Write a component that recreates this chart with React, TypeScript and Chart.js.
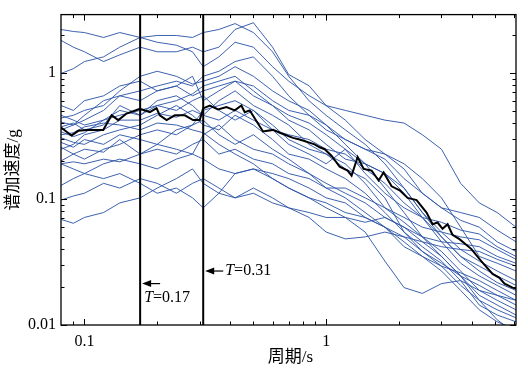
import React, { useEffect, useRef } from 'react';
import { Chart, registerables } from 'chart.js';

Chart.register(...registerables);

// Periods (s) shared by the individual record spectra
const periods = [0.08, 0.09, 0.1, 0.12, 0.14, 0.17, 0.2, 0.24, 0.28, 0.31, 0.36, 0.42, 0.5, 0.6, 0.7, 0.85, 1.0, 1.2, 1.45, 1.75, 2.1, 2.5, 3.0, 3.6, 4.3, 5.1, 6.1];

// Spectral acceleration (g) of each record
const record01 = [2.21, 2.13, 2.09, 1.91, 2.09, 1.91, 1.98, 1.98, 1.91, 2.09, 2.21, 2.46, 2.09, 1.47, 0.94, 0.6, 0.46, 0.353, 0.271, 0.19, 0.122, 0.078, 0.05, 0.035, 0.0268, 0.0217, 0.0188];
const record02 = [1.81, 1.6, 1.47, 1.23, 1.39, 1.6, 1.47, 1.47, 1.6, 1.47, 1.6, 2.21, 2.5, 1.6, 0.97, 0.79, 0.55, 0.504, 0.461, 0.422, 0.4, 0.323, 0.248, 0.133, 0.093, 0.078, 0.0597];
const record03 = [0.99, 1.08, 1.23, 1.34, 1.6, 1.91, 1.75, 1.66, 1.47, 1.12, 1.34, 1.75, 1.6, 1.12, 0.86, 0.66, 0.55, 0.422, 0.296, 0.227, 0.173, 0.111, 0.085, 0.078, 0.0713, 0.0566, 0.0457];
const record04 = [0.438, 0.461, 0.504, 0.551, 0.72, 0.94, 1.03, 0.94, 0.815, 0.86, 0.94, 1.12, 0.94, 0.72, 0.6, 0.504, 0.386, 0.296, 0.248, 0.227, 0.19, 0.145, 0.102, 0.0597, 0.035, 0.0309, 0.0268];
const record05 = [0.407, 0.386, 0.422, 0.504, 0.658, 0.602, 0.72, 0.787, 0.658, 0.72, 0.787, 0.86, 0.658, 0.551, 0.422, 0.353, 0.271, 0.207, 0.19, 0.159, 0.111, 0.0713, 0.0457, 0.0309, 0.0245, 0.0206, 0.0172];
const record06 = [0.373, 0.4, 0.353, 0.386, 0.551, 0.461, 0.602, 0.658, 0.551, 0.461, 0.602, 0.72, 0.551, 0.461, 0.386, 0.271, 0.227, 0.173, 0.145, 0.102, 0.0546, 0.0383, 0.0293, 0.0206, 0.0157, 0.0132, 0.0114];
const record07 = [0.341, 0.312, 0.335, 0.422, 0.504, 0.461, 0.551, 0.504, 0.602, 0.658, 0.504, 0.422, 0.504, 0.386, 0.296, 0.248, 0.227, 0.19, 0.133, 0.085, 0.0653, 0.05, 0.0383, 0.0268, 0.0188, 0.0157, 0.0132];
const record08 = [0.306, 0.281, 0.271, 0.323, 0.353, 0.386, 0.461, 0.551, 0.461, 0.386, 0.353, 0.461, 0.386, 0.296, 0.227, 0.207, 0.173, 0.145, 0.111, 0.078, 0.0546, 0.0418, 0.0321, 0.0225, 0.0144, 0.012, 0.0106];
const record09 = [0.281, 0.257, 0.296, 0.271, 0.323, 0.296, 0.271, 0.353, 0.386, 0.422, 0.323, 0.271, 0.323, 0.248, 0.207, 0.159, 0.133, 0.111, 0.093, 0.0713, 0.0597, 0.0457, 0.035, 0.0245, 0.0157, 0.011, 0.0085];
const record10 = [0.257, 0.227, 0.248, 0.235, 0.296, 0.227, 0.248, 0.227, 0.271, 0.296, 0.227, 0.248, 0.207, 0.19, 0.159, 0.145, 0.122, 0.102, 0.078, 0.0597, 0.0418, 0.035, 0.0268, 0.0188, 0.0132, 0.0106, 0.0092];
const record11 = [0.2, 0.227, 0.207, 0.248, 0.271, 0.323, 0.353, 0.323, 0.386, 0.504, 0.551, 0.602, 0.504, 0.353, 0.323, 0.296, 0.248, 0.227, 0.173, 0.133, 0.093, 0.0713, 0.0653, 0.0566, 0.0527, 0.0418, 0.035];
const record12 = [0.19, 0.197, 0.19, 0.207, 0.197, 0.227, 0.271, 0.248, 0.227, 0.323, 0.386, 0.296, 0.248, 0.227, 0.19, 0.159, 0.122, 0.122, 0.102, 0.085, 0.0713, 0.0597, 0.0546, 0.05, 0.0474, 0.0397, 0.0332];
const record13 = [0.128, 0.145, 0.159, 0.19, 0.207, 0.19, 0.173, 0.207, 0.227, 0.207, 0.173, 0.159, 0.173, 0.159, 0.145, 0.122, 0.102, 0.093, 0.0713, 0.0597, 0.05, 0.0383, 0.0309, 0.0245, 0.0206, 0.0172, 0.0144];
const record14 = [0.098, 0.1055, 0.111, 0.133, 0.122, 0.145, 0.133, 0.111, 0.133, 0.145, 0.122, 0.102, 0.111, 0.093, 0.085, 0.078, 0.0713, 0.0713, 0.0653, 0.0713, 0.0597, 0.05, 0.0457, 0.0441, 0.0418, 0.035, 0.0309];
const record15 = [0.0688, 0.0641, 0.0713, 0.078, 0.093, 0.102, 0.122, 0.145, 0.173, 0.133, 0.111, 0.102, 0.122, 0.102, 0.085, 0.0713, 0.0546, 0.0482, 0.05, 0.0546, 0.05, 0.0457, 0.0418, 0.0397, 0.0383, 0.0332, 0.0293];
const record16 = [0.19, 0.173, 0.159, 0.145, 0.159, 0.133, 0.111, 0.122, 0.102, 0.085, 0.111, 0.159, 0.173, 0.145, 0.122, 0.102, 0.085, 0.0713, 0.0546, 0.0321, 0.0198, 0.0178, 0.0213, 0.0225, 0.0188, 0.0172, 0.0157];
const record17 = [0.353, 0.386, 0.461, 0.602, 0.658, 0.72, 0.787, 0.86, 0.787, 0.94, 1.03, 1.23, 1.34, 0.94, 0.658, 0.461, 0.353, 0.296, 0.248, 0.207, 0.145, 0.111, 0.085, 0.0677, 0.0597, 0.0457, 0.0383];
const record18 = [0.551, 0.504, 0.602, 0.658, 0.787, 0.86, 0.72, 0.787, 0.94, 0.602, 0.72, 0.86, 0.787, 0.602, 0.504, 0.461, 0.386, 0.271, 0.19, 0.122, 0.078, 0.05, 0.035, 0.0245, 0.0172, 0.0144, 0.012];
const record19 = [0.248, 0.271, 0.323, 0.353, 0.422, 0.422, 0.478, 0.445, 0.504, 0.461, 0.422, 0.504, 0.422, 0.353, 0.271, 0.227, 0.19, 0.248, 0.19, 0.159, 0.122, 0.078, 0.0546, 0.0397, 0.0321, 0.0268, 0.0225];
const record20 = [0.323, 0.335, 0.373, 0.4, 0.386, 0.353, 0.4, 0.386, 0.353, 0.335, 0.271, 0.227, 0.19, 0.145, 0.122, 0.102, 0.093, 0.078, 0.0713, 0.0597, 0.0457, 0.035, 0.0293, 0.0259, 0.0225, 0.0188, 0.0157];
const record21 = [0.461, 0.422, 0.386, 0.422, 0.461, 0.504, 0.551, 0.602, 0.682, 0.787, 0.86, 0.94, 0.72, 0.551, 0.461, 0.4, 0.323, 0.248, 0.159, 0.111, 0.085, 0.0713, 0.05, 0.035, 0.0293, 0.0245, 0.0206];

const records = [record01, record02, record03, record04, record05, record06, record07, record08, record09, record10, record11, record12, record13, record14, record15, record16, record17, record18, record19, record20, record21];

// Mean spectrum
const meanPeriods = [0.08, 0.0885, 0.0943, 0.102, 0.1196, 0.1296, 0.138, 0.1494, 0.1695, 0.1865, 0.1987, 0.205, 0.2187, 0.2366, 0.2602, 0.2815, 0.3, 0.3097, 0.33, 0.357, 0.387, 0.4187, 0.446, 0.4605, 0.483, 0.548, 0.603, 0.643, 0.729, 0.777, 0.896, 0.94, 0.986, 1.054, 1.137, 1.227, 1.274, 1.349, 1.429, 1.542, 1.648, 1.729, 1.865, 2.014, 2.173, 2.366, 2.602, 2.755, 2.89, 3.03, 3.18, 3.33, 3.56, 3.99, 4.39, 4.88, 5.21, 5.47, 5.9, 6.1];
const meanValues = [0.368, 0.319, 0.347, 0.353, 0.353, 0.461, 0.422, 0.476, 0.52, 0.489, 0.525, 0.461, 0.422, 0.461, 0.461, 0.422, 0.422, 0.523, 0.551, 0.513, 0.535, 0.504, 0.551, 0.487, 0.504, 0.343, 0.353, 0.335, 0.305, 0.296, 0.271, 0.257, 0.248, 0.219, 0.18, 0.168, 0.153, 0.215, 0.173, 0.168, 0.14, 0.162, 0.126, 0.117, 0.102, 0.098, 0.078, 0.063, 0.065, 0.058, 0.063, 0.052, 0.048, 0.04, 0.032, 0.0254, 0.0237, 0.0213, 0.0198, 0.0195];

// Marked periods
const markerPeriods = [0.17, 0.31];
const markerLabels = ['=0.17', '=0.31'];
const markerArrowValues = [0.0213, 0.0268];

// Axes
const xMin = 0.08;
const xMax = 6.1;
const yMin = 0.01;
const yMax = 2.9;
const xTickLabels = [0.1, 1];
const yTickLabels = [0.01, 0.1, 1];
const xMinorTicks = [0.09, 0.2, 0.3, 0.4, 0.5, 0.6, 0.7, 0.8, 0.9, 2, 3, 4, 5, 6];
const yMinorTicks = [0.02, 0.03, 0.04, 0.05, 0.06, 0.07, 0.08, 0.09, 0.2, 0.3, 0.4, 0.5, 0.6, 0.7, 0.8, 0.9, 2];
const xTitle = '周期/s';
const yTitle = '谱加速度/g';

const SERIF = '"Liberation Serif", "Times New Roman", "Noto Sans CJK SC", serif';

const decorPlugin = {
  id: 'decor',
  afterDatasetsDraw(chart: any) {
    const { ctx, chartArea, scales } = chart;
    const xs = scales.x;
    const ys = scales.y;
    const { left, right, top, bottom } = chartArea;
    ctx.save();
    // frame
    ctx.strokeStyle = '#000';
    ctx.lineWidth = 1.3;
    ctx.strokeRect(left, top, right - left, bottom - top);
    // inward ticks
    ctx.lineWidth = 1;
    const tickX = (v: number, len: number) => {
      const px = Math.round(xs.getPixelForValue(v)) + 0.5;
      ctx.beginPath();
      ctx.moveTo(px, bottom);
      ctx.lineTo(px, bottom - len);
      ctx.moveTo(px, top);
      ctx.lineTo(px, top + len);
      ctx.stroke();
    };
    const tickY = (v: number, len: number) => {
      const py = Math.round(ys.getPixelForValue(v)) + 0.5;
      ctx.beginPath();
      ctx.moveTo(left, py);
      ctx.lineTo(left + len, py);
      ctx.moveTo(right, py);
      ctx.lineTo(right - len, py);
      ctx.stroke();
    };
    xTickLabels.forEach((v) => tickX(v, 6));
    xMinorTicks.forEach((v) => tickX(v, 3.5));
    yTickLabels.forEach((v) => tickY(v, 6));
    yMinorTicks.forEach((v) => tickY(v, 3.5));

    // marker annotations
    markerPeriods.forEach((p, i) => {
      const lx = xs.getPixelForValue(p);
      const ay = ys.getPixelForValue(markerArrowValues[i]);
      const tip = lx + 2;
      const tail = tip + 18;
      ctx.strokeStyle = '#000';
      ctx.fillStyle = '#000';
      ctx.lineWidth = 1.2;
      ctx.beginPath();
      ctx.moveTo(tip + 6, ay);
      ctx.lineTo(tail, ay);
      ctx.stroke();
      ctx.beginPath();
      ctx.moveTo(tip, ay);
      ctx.lineTo(tip + 9, ay - 3.5);
      ctx.lineTo(tip + 9, ay + 3.5);
      ctx.closePath();
      ctx.fill();
      let tx: number;
      let ty: number;
      if (i === 0) {
        tx = lx + 4;
        ty = ay + 14;
      } else {
        tx = tail + 2;
        ty = ay;
      }
      ctx.textBaseline = 'middle';
      ctx.textAlign = 'left';
      ctx.font = 'italic 16px ' + SERIF;
      ctx.fillText('T', tx, ty);
      const tw = ctx.measureText('T').width;
      ctx.font = '16px ' + SERIF;
      ctx.fillText(markerLabels[i], tx + tw, ty);
    });

    // axis titles
    ctx.fillStyle = '#000';
    ctx.font = '17px ' + SERIF;
    ctx.textAlign = 'center';
    ctx.textBaseline = 'middle';
    ctx.fillText(xTitle, (left + right) / 2 + 2, 358);
    ctx.save();
    ctx.translate(14, (top + bottom) / 2);
    ctx.rotate(-Math.PI / 2);
    ctx.fillText(yTitle, 0, 0);
    ctx.restore();
    ctx.restore();
  },
};

export default function App() {
  const canvasRef = useRef<HTMLCanvasElement | null>(null);

  useEffect(() => {
    const canvas = canvasRef.current;
    if (!canvas) return;

    const recordSets = records.map((vals, idx) => ({
      label: 'record ' + (idx + 1),
      data: periods.map((p, i) => ({ x: p, y: vals[i] })),
      borderColor: 'rgba(45, 85, 168, 0.92)',
      borderWidth: 1,
      pointRadius: 0,
      tension: 0,
      fill: false,
      order: 3,
    }));

    const markerSets = markerPeriods.map((p) => ({
      label: 'T=' + p,
      data: [
        { x: p, y: yMin },
        { x: p, y: yMax },
      ],
      borderColor: '#000',
      borderWidth: 2,
      pointRadius: 0,
      fill: false,
      order: 1,
    }));

    const meanSet = {
      label: 'mean',
      data: meanPeriods.map((p, i) => ({ x: p, y: meanValues[i] })),
      borderColor: '#000',
      borderWidth: 2,
      pointRadius: 0,
      tension: 0,
      fill: false,
      order: 0,
    };

    const chart = new Chart(canvas, {
      type: 'line',
      data: { datasets: [meanSet, ...markerSets, ...recordSets] as any },
      options: {
        responsive: false,
        animation: false,
        devicePixelRatio: 1,
        layout: { padding: { left: 0, right: 12, top: 6, bottom: 0 } },
        plugins: {
          legend: { display: false },
          tooltip: { enabled: false },
        },
        scales: {
          x: {
            type: 'logarithmic',
            min: xMin,
            max: xMax,
            grid: { display: false, drawTicks: false },
            border: { display: false },
            afterBuildTicks: (scale: any) => {
              scale.ticks = xTickLabels.map((v) => ({ value: v }));
            },
            afterFit: (scale: any) => {
              scale.height = 50;
            },
            ticks: {
              autoSkip: false,
              maxRotation: 0,
              padding: 7,
              color: '#000',
              font: { family: SERIF, size: 16 },
              callback: (v: any) => String(v),
            },
          },
          y: {
            type: 'logarithmic',
            min: yMin,
            max: yMax,
            grid: { display: false, drawTicks: false },
            border: { display: false },
            afterBuildTicks: (scale: any) => {
              scale.ticks = yTickLabels.map((v) => ({ value: v }));
            },
            afterFit: (scale: any) => {
              scale.width = 61;
            },
            ticks: {
              autoSkip: false,
              padding: 5,
              color: '#000',
              font: { family: SERIF, size: 16 },
              callback: (v: any) => String(v),
            },
          },
        },
      } as any,
      plugins: [decorPlugin],
    });

    return () => {
      chart.destroy();
    };
  }, []);

  return (
    <div style={{ position: 'fixed', left: 0, top: 0, width: 528, height: 375, background: '#fff' }}>
      <canvas ref={canvasRef} width={528} height={375} />
    </div>
  );
}
